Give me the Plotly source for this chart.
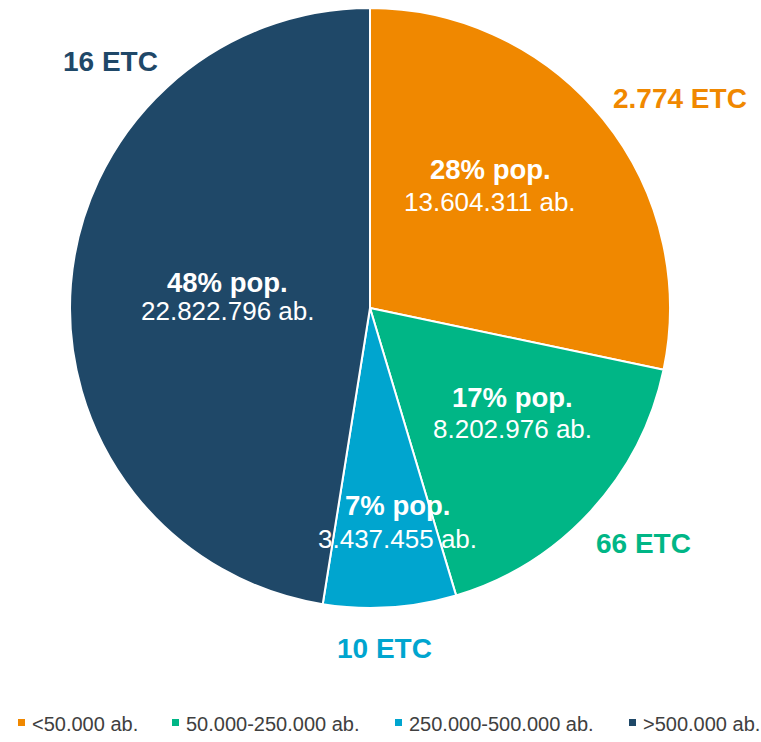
import plotly.graph_objects as go

categories = ["<50.000 ab.", "50.000-250.000 ab.", "250.000-500.000 ab.", ">500.000 ab."]
population = [13604311, 8202976, 3437455, 22822796]
pct_labels = [28, 17, 7, 48]
etc_counts = ["2.774", "66", "10", "16"]
colors = ["#F08800", "#00B686", "#00A5CF", "#1F4868"]

W, H = 761, 742
ML, MR, MT, MB = 70, 91, 8, 134
PW, PH = W - ML - MR, H - MT - MB
FONT = "Liberation Sans, Arial"


def px(x, y):
    return (x - ML) / PW, 1 - (y - MT) / PH


def fmt(v):
    return f"{v:,}".replace(",", ".")


fig = go.Figure(go.Pie(
    labels=categories,
    values=population,
    sort=False,
    direction="clockwise",
    rotation=0,
    marker=dict(colors=colors, line=dict(color="white", width=2)),
    textinfo="none",
    hoverinfo="label+value+percent",
    showlegend=False,
))

# inside label positions (pixel): bold line, regular line
inside_pos = [((490, 169), (490, 202)),
              ((512, 397), (512, 429)),
              ((397, 505), (397, 539)),
              ((227, 282), (228, 311))]
outside_pos = [(680, 98), (643, 543), (384, 648), (110, 62)]
legend_text_x = [32, 186, 409, 643]
legend_y = 724

annotations = []
shapes = []
for i in range(len(categories)):
    (bx, by), (rx, ry) = inside_pos[i]
    x, y = px(bx, by)
    annotations.append(dict(x=x, y=y, xref="paper", yref="paper", showarrow=False,
                            text=f"<b>{pct_labels[i]}% pop.</b>",
                            font=dict(family=FONT, size=27.5, color="white"),
                            xanchor="center", yanchor="middle"))
    x, y = px(rx, ry)
    annotations.append(dict(x=x, y=y, xref="paper", yref="paper", showarrow=False,
                            text=f"{fmt(population[i])} ab.",
                            font=dict(family=FONT, size=26, color="white"),
                            xanchor="center", yanchor="middle"))
    ox, oy = outside_pos[i]
    x, y = px(ox, oy)
    annotations.append(dict(x=x, y=y, xref="paper", yref="paper", showarrow=False,
                            text=f"<b>{etc_counts[i]} ETC</b>",
                            font=dict(family=FONT, size=28, color=colors[i]),
                            xanchor="center", yanchor="middle"))
    # legend entry
    tx = legend_text_x[i]
    x, y = px(tx, legend_y)
    annotations.append(dict(x=x, y=y, xref="paper", yref="paper", showarrow=False,
                            text=categories[i],
                            font=dict(family=FONT, size=20, color="#404040"),
                            xanchor="left", yanchor="middle", xshift=-2))
    x0, y0 = px(tx - 14, legend_y - 5)
    x1, y1 = px(tx - 7, legend_y + 2)
    shapes.append(dict(type="rect", xref="paper", yref="paper",
                       x0=x0, x1=x1, y0=y0, y1=y1,
                       fillcolor=colors[i], line=dict(width=0)))

fig.update_layout(
    width=W, height=H,
    margin=dict(l=ML, r=MR, t=MT, b=MB),
    paper_bgcolor="white",
    plot_bgcolor="white",
    font=dict(family=FONT, color="#404040"),
    showlegend=False,
    annotations=annotations,
    shapes=shapes,
)

fig.write_html("out.html", config={"displayModeBar": False},
               post_script="document.body.style.margin='0px';")
